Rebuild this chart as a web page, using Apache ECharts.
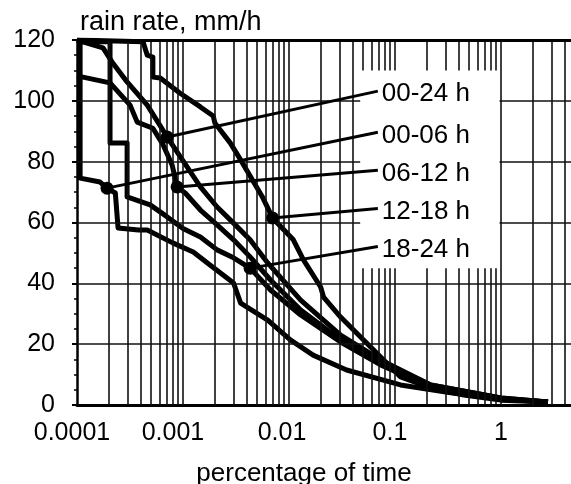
<!DOCTYPE html>
<html><head><meta charset="utf-8">
<script src="https://cdn.jsdelivr.net/npm/echarts@6/dist/echarts.min.js"></script>
<style>html,body{margin:0;padding:0;background:#fff}#c{width:571px;height:484px}</style>
</head><body><div id="c"></div>
<script>
// ---- data (x: percentage of time, y: rain rate mm/h) ----
const seriesNames = ['00-24 h', '00-06 h', '06-12 h', '12-18 h', '18-24 h'];
const xTickLabels = ['0.0001', '0.001', '0.01', '0.1', '1'];
const yTicks = [0, 20, 40, 60, 80, 100, 120];

const curve0024 = [[1e-4,120],[1.76e-4,117.4],[2.14e-4,112.8],[2.97e-4,106.2],[4.6e-4,98.6],[7.1e-4,88.1],[1.46e-3,71.7],[2.1e-3,65.1],[3.0e-3,59.8],[4.3e-3,54.3],[6.3e-3,46.7],[0.0129,34.5],[0.0307,23],[0.0733,14.8],[0.218,6.6],[1.0,2.3],[2.78,1.0]];
const curve0006 = [[1.07e-4,120],[1.07e-4,74.6],[1.65e-4,73.3],[1.92e-4,71.3],[2.3e-4,69.7],[2.44e-4,58.2],[3.8e-4,57.5],[4.6e-4,57.5],[8e-4,53.3],[1.25e-3,50.3],[1.7e-3,46.7],[3.0e-3,40.1],[3.5e-3,33.5],[6.3e-3,27.9],[0.0103,21.4],[0.0169,16.4],[0.035,11.5],[0.113,6.6],[0.336,4],[1.0,2],[2.78,1.0]];
const curve0612 = [[1e-4,108.2],[2.05e-4,105.9],[3.17e-4,98.6],[3.7e-4,93],[5.2e-4,91],[6.5e-4,85.5],[7.9e-4,78.9],[8.8e-4,71.7],[1.05e-3,69.7],[1.46e-3,64.1],[2.1e-3,59.2],[3.0e-3,54.3],[4.3e-3,48.7],[6.7e-3,41.1],[0.0129,31.2],[0.0307,21.4],[0.0733,14.1],[0.218,6.6],[1.0,2.3],[2.78,1.0]];
const curve1218 = [[1e-4,120],[4.2e-4,119.4],[4.6e-4,115],[5.2e-4,114.4],[5.2e-4,107.8],[6.1e-4,107.5],[9.4e-4,102.5],[1.46e-3,98],[1.93e-3,95],[2.0e-3,92.7],[2.8e-3,86.1],[3.5e-3,80.6],[5.6e-3,68.5],[7.0e-3,61.5],[0.011,54.3],[0.0137,47.7],[0.0199,38.8],[0.0212,35.5],[0.0307,28.9],[0.0506,21.4],[0.0733,15.8],[0.113,9.2],[0.218,5.6],[0.447,3.3],[1.0,1.6],[2.78,1.0]];
const curve1824 = [[1e-4,119.4],[2.05e-4,119.4],[2.05e-4,86.1],[2.97e-4,86.1],[2.97e-4,68.4],[4.9e-4,65.8],[7e-4,62],[1.0e-3,58],[1.46e-3,55.2],[2.1e-3,51],[3.0e-3,48.4],[4.3e-3,45],[6.7e-3,37.8],[0.0129,29.6],[0.0307,20.7],[0.0733,13.2],[0.218,5.9],[1.0,2],[2.78,1.0]];
const curves = [curve0024, curve0006, curve0612, curve1218, curve1824];

// marked points on each curve and where their labels sit
const dotPoints = [[7.1e-4, 88.1], [1.92e-4, 71.3], [8.8e-4, 71.7], [7.0e-3, 61.5], [4.3e-3, 45]];
const labelAnchors = [[0.069, 103.2], [0.069, 89.7], [0.069, 77.2], [0.069, 64.6], [0.069, 52.1]];

// ---- grid lines (drawn through the axes) ----
const decades = [1e-4, 1e-3, 1e-2, 1e-1, 1];
const boxX = [0.047, 0.97], boxY = [45, 110];
const gridLines = [];
decades.forEach(d => {
  for (let m = 1; m <= 9; m++) {
    const v = d * m;
    if (v > 4.9) break;
    if (v === 1e-4) continue;
    if (v >= boxX[0] && v <= boxX[1]) {
      gridLines.push([{coord: [v, 0]}, {coord: [v, boxY[0]]}]);
      gridLines.push([{coord: [v, boxY[1]]}, {coord: [v, 120]}]);
    } else {
      gridLines.push([{coord: [v, 0]}, {coord: [v, 120]}]);
    }
  }
});
yTicks.forEach(t => {
  if (t === 0 || t === 120) return;
  if (t > boxY[0] && t < boxY[1]) {
    gridLines.push([{coord: [1e-4, t]}, {coord: [boxX[0], t]}]);
    gridLines.push([{coord: [boxX[1], t]}, {coord: [5, t]}]);
  } else {
    gridLines.push([{coord: [1e-4, t]}, {coord: [5, t]}]);
  }
});

const font = 'Liberation Sans, Arial, Helvetica, sans-serif';
const chart = echarts.init(document.getElementById('c'));
const series = [{
  type: 'line', data: [[1e-4, 0]], showSymbol: false, lineStyle: {width: 0}, z: 1, silent: true,
  markLine: {symbol: ['none', 'none'], silent: true, animation: false, label: {show: false},
    lineStyle: {color: '#111', width: 1.6, type: 'solid'}, emphasis: {disabled: true},
    data: gridLines.concat([[{coord: [1e-4, 120], lineStyle: {width: 3, color: '#000'}}, {coord: [5, 120]}]])}
}];
curves.forEach((c, i) => {
  series.push({
    name: seriesNames[i], type: 'line', data: c, showSymbol: false, z: 3,
    lineStyle: {color: '#000', width: 5, join: 'round'},
    markPoint: {symbol: 'circle', symbolSize: 13, itemStyle: {color: '#000'}, label: {show: false}, silent: true,
      data: [{coord: dotPoints[i]}]},
    markLine: {symbol: ['none', 'none'], silent: true,
      lineStyle: {color: '#000', width: 3, type: 'solid'},
      label: {show: true, position: 'end', distance: 4, formatter: seriesNames[i], color: '#000', fontSize: 26, fontFamily: font, offset: [0, 4]},
      data: [[{coord: dotPoints[i]}, {coord: labelAnchors[i]}]]}
  });
});

const padR = [10, 20, 14, 10, 0];
const rich = {};
padR.forEach((p, i) => { rich['t' + i] = {fontSize: 25, color: '#000', fontFamily: font, padding: [0, p, 0, 0]}; });

chart.setOption({
  animation: false,
  backgroundColor: '#fff',
  grid: {left: 77, top: 40, bottom: 79, right: -4, containLabel: false, outerBoundsMode: 'none'},
  xAxis: {
    type: 'log', logBase: 10, min: 1e-4, max: 5,
    name: 'percentage of time', nameLocation: 'middle', nameGap: 56,
    nameTextStyle: {fontSize: 26, color: '#000', fontFamily: font, padding: [0, 44, 0, 0]},
    axisLine: {show: true, onZero: false, lineStyle: {color: '#000', width: 3}},
    axisTick: {show: false},
    splitLine: {show: false},
    axisLabel: {fontSize: 25, color: '#000', fontFamily: font, margin: 16, rich: rich,
      formatter: v => { const l = Math.log10(v); const k = Math.round(l) + 4; return (Math.abs(l - Math.round(l)) < 1e-6 && k >= 0 && k < xTickLabels.length) ? '{t' + k + '|' + xTickLabels[k] + '}' : ''; }}
  },
  yAxis: {
    type: 'value', min: 0, max: 120, interval: 20,
    name: 'rain rate, mm/h', nameLocation: 'end', nameGap: 4,
    nameTextStyle: {fontSize: 27, color: '#000', fontFamily: font, align: 'left', padding: [0, 0, 0, 3]},
    axisLine: {show: true, lineStyle: {color: '#000', width: 2.5}},
    axisTick: {show: true, length: 5, lineStyle: {color: '#000', width: 2}},
    minorTick: {show: true, splitNumber: 4, length: 3, lineStyle: {color: '#000', width: 1.5}},
    splitLine: {show: false},
    axisLabel: {fontSize: 25, color: '#000', fontFamily: font, margin: 22}
  },
  series: series
});
</script></body></html>
